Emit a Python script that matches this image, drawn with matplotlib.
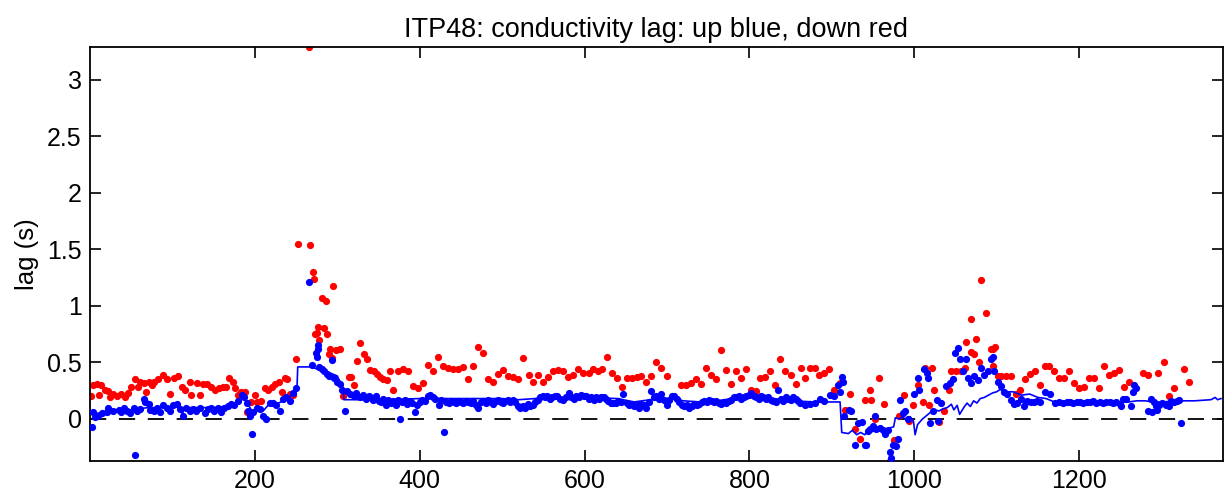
import matplotlib
matplotlib.use("Agg")
import matplotlib.pyplot as plt

plt.rcParams['font.family'] = ['Liberation Sans', 'DejaVu Sans']

# ---- data: profile number vs lag (s) ----
down_x = [1, 4, 8, 11, 13, 18, 22, 24, 28, 33, 38, 43, 46, 50, 55, 58, 61, 65, 68, 72, 75, 78,
          83, 89, 93, 97, 102, 107, 111, 115, 121, 123, 130, 134, 137, 142, 147, 152, 156, 161,
          165, 169, 173, 176, 179, 183, 188, 191, 195, 200, 203, 208, 212, 216, 221, 225, 229,
          233, 236, 239, 243, 246,
          250, 252, 266, 267, 270, 272, 273, 275, 276, 278, 282, 284, 286, 287, 290, 291, 293,
          295, 298, 303, 307, 314, 317, 320, 324, 328, 332, 336, 340, 344,
          348, 352, 356, 360, 364, 367, 374, 380, 386, 392, 398, 404, 410, 416, 422, 428, 434,
          440, 446, 452, 459, 465, 471, 477, 483, 489, 495, 501, 507, 513, 519, 525, 532, 538,
          544, 550, 556, 562, 568, 574, 580, 586, 592, 598, 605, 610, 616, 621, 627, 633, 639,
          645, 651, 657, 663, 669, 675, 681, 687, 693, 700, 717, 723, 729, 735, 741, 747, 753,
          760, 765, 771, 778, 784, 790, 796, 802, 808, 813, 819, 825, 831, 837, 843, 850, 856,
          862, 867, 873, 879, 885, 891, 897, 903, 910, 916, 922, 928, 934, 940, 946, 948, 952,
          957, 963, 970, 975, 981, 987, 993, 999, 1004, 1010, 1013, 1018, 1022, 1024, 1030,
          1036, 1042, 1045, 1051, 1057, 1061, 1063, 1069, 1069, 1072, 1075, 1078, 1081, 1087,
          1093, 1095, 1096, 1098, 1101, 1105, 1111, 1117, 1123, 1128, 1134, 1140, 1146, 1152,
          1158, 1164, 1170, 1176, 1182, 1188, 1194, 1200, 1206, 1212, 1218, 1224, 1230, 1236,
          1242, 1248, 1254, 1260, 1278, 1284, 1296, 1303, 1309, 1315, 1327, 1333]
down_y = [0.20, 0.30, 0.31, 0.21, 0.30, 0.26, 0.25, 0.19, 0.22, 0.20, 0.22, 0.19, 0.23, 0.28,
          0.35, 0.28, 0.33, 0.32, 0.24, 0.33, 0.30, 0.33, 0.35, 0.39, 0.35, 0.22, 0.36, 0.38,
          0.28, 0.26, 0.33, 0.21, 0.32, 0.21, 0.31, 0.31, 0.28, 0.26, 0.27, 0.28, 0.28, 0.36,
          0.33, 0.27, 0.21, 0.24, 0.24, 0.06, 0.15, 0.21, 0.15, 0.16, 0.27, 0.26, 0.28, 0.31,
          0.33, 0.24, 0.36, 0.35, 0.22, 0.21,
          0.53, 1.55, 3.29, 1.54, 1.30, 1.24, 0.75, 0.76, 0.81, 0.70, 1.07, 0.80, 1.04, 0.75,
          0.57, 0.615, 0.54, 1.175, 0.61, 0.62, 0.20, 0.37, 0.37, 0.30, 0.51, 0.67, 0.575, 0.53,
          0.43, 0.42,
          0.40, 0.37, 0.35, 0.34, 0.42, 0.26, 0.42, 0.44, 0.42, 0.29, 0.27, 0.32, 0.48, 0.42,
          0.55, 0.47, 0.45, 0.44, 0.44, 0.46, 0.35, 0.47, 0.64, 0.58, 0.35, 0.33, 0.40, 0.43,
          0.38, 0.375, 0.35, 0.535, 0.39, 0.33, 0.39, 0.33, 0.37, 0.42, 0.43, 0.42, 0.375,
          0.39, 0.44, 0.41, 0.41, 0.44, 0.42, 0.44, 0.55, 0.41, 0.36, 0.28, 0.36, 0.36, 0.37,
          0.38, 0.33, 0.38, 0.50, 0.45, 0.38, 0.30, 0.30, 0.32, 0.35, 0.31, 0.45, 0.39, 0.35,
          0.61, 0.43, 0.31, 0.42, 0.36, 0.44, 0.26, 0.25, 0.36, 0.375, 0.42, 0.30, 0.53, 0.42,
          0.39, 0.31, 0.45, 0.365, 0.45, 0.45, 0.39, 0.41, 0.44, 0.26, 0.32, 0.08, 0.22, -0.09,
          -0.18, 0.17, 0.26, 0.17, 0.00, 0.365, 0.13, -0.37, -0.19, 0.03, 0.21, -0.02, 0.12,
          0.30, 0.15, 0.45, 0.12, 0.45, 0.26, -0.03, 0.07, 0.26, 0.42, 0.42, 0.42, 0.45, 0.68,
          0.88, 0.59, 0.575, 0.71, 0.50, 1.225, 0.94, 0.62, 0.62, 0.47, 0.64, 0.38, 0.38, 0.38,
          0.38, 0.22, 0.26, 0.35, 0.40, 0.42, 0.30, 0.47, 0.47, 0.42, 0.365, 0.36, 0.42, 0.32,
          0.27, 0.28, 0.365, 0.365, 0.27, 0.47, 0.39, 0.41, 0.43, 0.285, 0.33, 0.41, 0.39, 0.41,
          0.50, 0.20, 0.27, 0.44, 0.33]

up_x = [2, 3, 6, 10, 14, 20, 22, 28, 35, 37, 41, 45, 49, 53, 55, 57, 61, 65, 67, 71, 73, 77, 81,
        85, 89, 93, 97, 101, 105, 109, 113, 117, 121, 125, 129, 133, 139, 143, 147, 151, 155,
        159, 163, 167, 171, 175, 180, 184, 187, 190, 192, 194, 196, 198, 202, 206, 210, 214,
        218, 222, 226, 230, 234, 238, 242, 246, 250,
        266, 269, 274, 275, 276, 277, 278, 281, 284, 287, 290, 294, 296, 300, 303, 306, 309,
        312, 316, 320, 323, 327, 331, 335, 338,
        340, 343, 347, 350, 353, 356, 359, 362, 365, 368, 371, 374, 376, 379, 382, 385, 388,
        391, 394, 397, 400, 403, 406, 410, 413, 416, 419, 423, 426, 429, 432, 435, 438, 441,
        444, 447, 450, 453, 456, 459, 462, 465, 468, 471, 474, 477, 480, 483, 486, 489, 492,
        495, 498, 501, 504, 507, 510, 513, 516, 519, 522, 525, 528, 531, 534, 537, 540, 543,
        546, 549, 552, 555, 558, 561, 564, 567, 570, 574, 577, 581, 584, 587, 590, 593, 596,
        599, 602, 605, 608, 611, 614, 617, 620, 623, 626, 629, 632, 635, 638, 641, 644, 647,
        651, 654, 657, 660, 663, 666, 669, 672, 675, 678, 681, 684, 687, 690, 693, 696, 700,
        703, 706, 709, 712, 715, 718, 721, 724, 727, 730, 733, 736, 739, 742, 745, 748, 751,
        754, 757, 760, 763, 766, 769, 772, 775, 778, 781, 784, 787, 790, 793, 796, 799, 802,
        805, 808, 811, 814, 817, 820, 823, 826, 829, 832, 835, 838, 841, 844, 847, 850, 853,
        856, 859,
        861, 867, 873, 879, 886, 891, 898, 903, 907, 910, 912, 913, 915, 921, 923, 928, 932,
        936, 940, 942, 944, 946, 950, 952, 954, 958, 962, 965, 968, 970, 972, 974, 978, 980,
        983, 986, 989, 992, 1000, 1004, 1006, 1012, 1015, 1017, 1019, 1023, 1027, 1029, 1033,
        1039, 1043, 1047, 1049, 1053, 1055, 1059, 1063, 1065, 1069, 1073, 1077, 1081, 1085,
        1089, 1093, 1095, 1097, 1101, 1105, 1109, 1113, 1117, 1121, 1125, 1129, 1133, 1135,
        1137, 1141, 1145, 1149, 1153, 1159, 1165, 1171, 1175, 1181, 1185, 1189, 1193, 1197,
        1201, 1205, 1209, 1213, 1217, 1221, 1225, 1229, 1233, 1237, 1241, 1245, 1249, 1251,
        1253, 1257, 1263, 1265, 1267, 1269, 1283, 1287, 1289, 1291, 1293, 1295, 1297, 1301,
        1305, 1309, 1311, 1315, 1319, 1321, 1323]
up_y = [-0.07, 0.065, 0.02, 0.03, 0.05, 0.06, 0.10, 0.07, 0.08, 0.06, 0.10, 0.07, 0.05, 0.10,
        -0.32, 0.07, 0.09, 0.18, 0.15, 0.13, 0.08, 0.07, 0.10, 0.06, 0.12, 0.10, 0.07, 0.12,
        0.13, 0.09, 0.03, 0.10, 0.07, 0.09, 0.07, 0.10, 0.05, 0.09, 0.10, 0.07, 0.10, 0.06,
        0.10, 0.11, 0.13, 0.12, 0.16, 0.21, 0.19, 0.14, 0.07, 0.03, -0.13, 0.06, 0.10, 0.09,
        0.03, 0.00, 0.14, 0.14, 0.12, 0.07, 0.18, 0.19, 0.16, 0.23, 0.27,
        1.21, 0.48, 0.585, 0.55, 0.62, 0.65, 0.46, 0.44, 0.42, 0.40, 0.38, 0.52, 0.36, 0.33,
        0.31, 0.26, 0.073, 0.25, 0.22, 0.20, 0.23, 0.19, 0.21, 0.18, 0.20,
        0.19, 0.17, 0.20, 0.16, 0.15, 0.18, 0.12, 0.17, 0.14, 0.16, 0.12, 0.17, 0.00, 0.15,
        0.17, 0.13, 0.16, 0.14, 0.065, 0.12, 0.15, 0.17, 0.16, 0.20, 0.21, 0.19, 0.18, 0.12,
        0.17, -0.12, 0.15, 0.14, 0.16, 0.15, 0.14, 0.16, 0.15, 0.14, 0.16, 0.15, 0.14, 0.16,
        0.12, 0.10, 0.15, 0.16, 0.14, 0.17, 0.15, 0.13, 0.16, 0.17, 0.15, 0.14, 0.16, 0.17,
        0.15, 0.17, 0.15, 0.11, 0.10, 0.11, 0.10, 0.13, 0.11, 0.12, 0.15, 0.17, 0.19, 0.20,
        0.19, 0.20, 0.18, 0.19, 0.20, 0.20, 0.18, 0.17, 0.19, 0.23, 0.19, 0.18, 0.20, 0.19,
        0.21, 0.20, 0.20, 0.18, 0.19, 0.17, 0.19, 0.18, 0.19, 0.19, 0.18, 0.16, 0.14, 0.14,
        0.14, 0.16, 0.15, 0.22, 0.14, 0.12, 0.13, 0.11, 0.12, 0.10, 0.13, 0.12, 0.10, 0.15,
        0.25, 0.19, 0.20, 0.18, 0.22, 0.17, 0.12, 0.17, 0.20, 0.20, 0.18, 0.15, 0.12, 0.11,
        0.12, 0.10, 0.11, 0.13, 0.12, 0.13, 0.15, 0.16, 0.15, 0.17, 0.16, 0.15, 0.16, 0.14,
        0.13, 0.15, 0.14, 0.16, 0.17, 0.19, 0.19, 0.20, 0.18, 0.19, 0.20, 0.21, 0.23, 0.20,
        0.19, 0.18, 0.20, 0.19, 0.18, 0.19, 0.17, 0.16, 0.15, 0.26, 0.18, 0.16, 0.19, 0.18,
        0.17, 0.19, 0.18, 0.16,
        0.14, 0.125, 0.13, 0.14, 0.18, 0.16, 0.21, 0.20, 0.30, 0.24, 0.37, 0.33, 0.03, 0.08,
        0.07, -0.23, -0.04, -0.03, -0.23, -0.23, -0.11, -0.09, -0.06, 0.03, -0.09, -0.08,
        -0.10, -0.13, -0.10, -0.29, -0.35, -0.23, -0.24, -0.18, 0.17, 0.05, 0.07, -0.00, 0.22,
        0.36, 0.26, 0.44, 0.41, 0.36, -0.04, 0.07, 0.17, -0.02, 0.14, 0.29, 0.32, 0.35, 0.58,
        0.63, 0.53, 0.42, 0.53, 0.36, 0.32, 0.38, 0.34, 0.45, 0.39, 0.42, 0.53, 0.55, 0.42,
        0.33, 0.29, 0.24, 0.22, 0.17, 0.13, 0.14, 0.18, 0.11, 0.15,
        0.16, 0.15, 0.15, 0.16, 0.15, 0.24, 0.22, 0.14, 0.15, 0.14, 0.15, 0.15, 0.14, 0.15,
        0.15, 0.14, 0.15, 0.15, 0.16, 0.14, 0.15, 0.14, 0.15, 0.15, 0.14, 0.15, 0.13, 0.11,
        0.18, 0.18, 0.11, 0.24, 0.30, 0.27, 0.07, 0.18, 0.06, 0.15, 0.11, 0.08, 0.12, 0.14,
        0.12, 0.11, 0.16, 0.15, 0.16, 0.17, -0.04]

line_x = [0, 10, 20, 30, 40, 50, 60, 70, 80, 90, 100, 110, 112, 114, 130, 150, 165, 175, 182,
          186, 190, 194, 198, 204, 210, 216, 225, 235, 242, 248, 251, 252, 268, 280, 290, 300,
          305, 307, 308, 330, 360, 400, 450, 500, 520, 540, 560, 600, 640, 660, 680, 700, 720,
          740, 760, 780, 800, 830, 850, 880, 905, 910, 912, 920, 925, 930, 935, 940, 945, 950,
          955, 960, 965, 970, 975, 977, 982, 986, 990, 995, 999, 1001, 1004, 1010, 1015, 1020,
          1025, 1030, 1035, 1040, 1045, 1048, 1052, 1055, 1060, 1064, 1068, 1072, 1076, 1080,
          1085, 1090, 1095, 1100, 1104, 1110, 1120, 1130, 1140, 1150, 1160, 1170, 1180, 1195,
          1200, 1220, 1240, 1260, 1270, 1280, 1290, 1300, 1320, 1340, 1360, 1365, 1368, 1372]
line_y = [0.05, 0.05, 0.07, 0.08, 0.08, 0.08, 0.09, 0.10, 0.10, 0.10, 0.11, 0.10, 0.03, 0.10,
          0.10, 0.10, 0.11, 0.13, 0.16, 0.20, 0.15, 0.10, 0.05, 0.10, 0.07, 0.12, 0.13, 0.16,
          0.19, 0.24, 0.26, 0.46, 0.46, 0.43, 0.41, 0.38, 0.30, 0.28, 0.17, 0.17, 0.17, 0.18,
          0.18, 0.18, 0.17, 0.18, 0.19, 0.19, 0.18, 0.15, 0.17, 0.18, 0.16, 0.15, 0.16, 0.18,
          0.19, 0.18, 0.16, 0.15, 0.15, 0.15, -0.12, -0.13, -0.10, -0.14, -0.12, -0.14, -0.09,
          -0.11, -0.07, -0.09, -0.10, -0.08, -0.07, 0.01, 0.00, 0.02, -0.01, 0.02, -0.02, -0.14,
          -0.05, 0.00, 0.03, 0.06, 0.08, 0.07, 0.09, 0.10, 0.13, 0.08, 0.12, 0.04, 0.10, 0.14,
          0.11, 0.16, 0.14, 0.18, 0.19, 0.21, 0.23, 0.24, 0.26, 0.24, 0.24, 0.21, 0.22, 0.19,
          0.18, 0.15, 0.14, 0.13, 0.15, 0.15, 0.15, 0.15, 0.16, 0.16, 0.15, 0.15, 0.16, 0.16,
          0.17, 0.19, 0.17, 0.18]

title = "ITP48: conductivity lag: up blue, down red"
ylabel = "lag (s)"
xticks = [200, 400, 600, 800, 1000, 1200]
yticks = [0, 0.5, 1, 1.5, 2, 2.5, 3]
yticklabels = ["0", "0.5", "1", "1.5", "2", "2.5", "3"]

fig = plt.figure(figsize=(12.25, 5.01), dpi=100)
ax = fig.add_axes([0.0735, 0.0804, 0.9245, 0.8256])

ax.axhline(0, color='black', lw=1.3, linestyle=(0, (9, 7)), zorder=1)
ax.plot(down_x, down_y, 'o', color='#ff0000', markersize=5.2, markeredgewidth=0, zorder=2)
ax.plot(up_x, up_y, 'o', color='#0000ff', markersize=5.2, markeredgewidth=0, zorder=3)
ax.plot(line_x, line_y, '-', color='#0000ff', lw=1.2, zorder=4)

ax.set_xlim(0, 1374)
ax.set_ylim(-0.37, 3.29)
ax.set_xticks(xticks)
ax.set_xticklabels([str(t) for t in xticks])
ax.set_yticks(yticks)
ax.set_yticklabels(yticklabels)
ax.tick_params(direction='in', length=8, width=1.2, top=True, right=True,
               labelsize=18, pad=6)
for s in ax.spines.values():
    s.set_linewidth(1.3)
ax.set_title(title, fontsize=19.5, pad=7)
ax.set_ylabel(ylabel, fontsize=18.5, labelpad=6)

fig.savefig("out.png", dpi=100)
